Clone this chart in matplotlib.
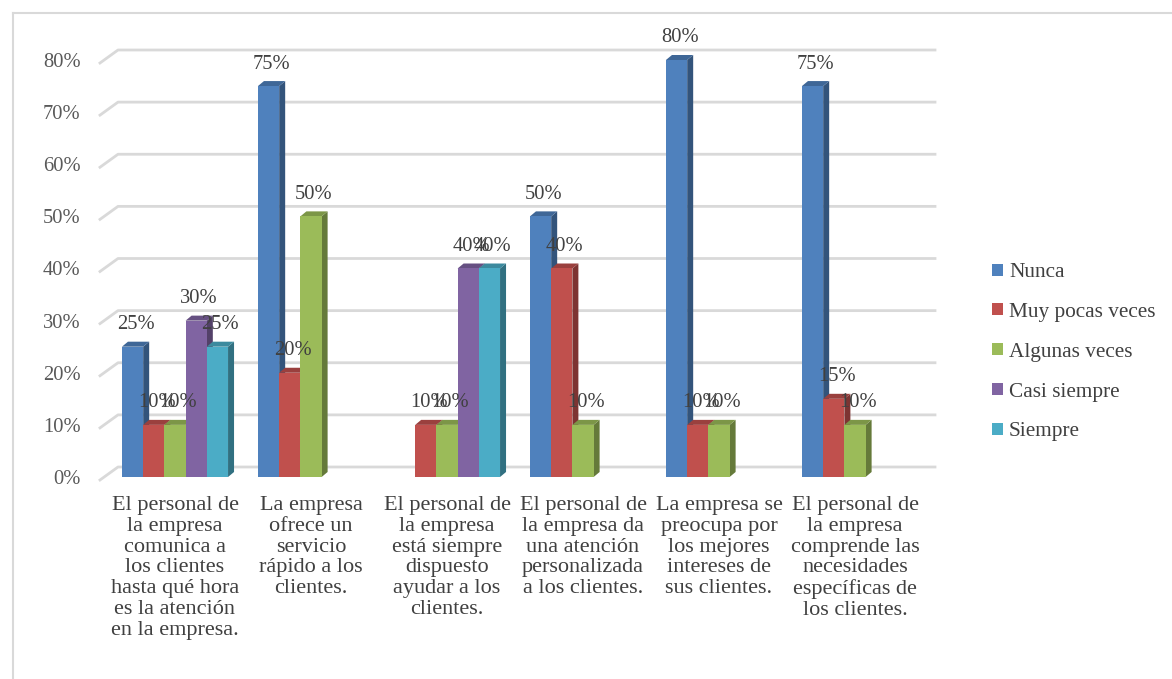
"""Encuesta de atencion al cliente - columnas 3D estilo Excel"""

import matplotlib
matplotlib.use('Agg')
import matplotlib.pyplot as plt
from matplotlib.patches import Polygon, Patch
from matplotlib.lines import Line2D
from matplotlib import colors as mcolors

plt.rcParams['font.family'] = ['Liberation Serif', 'DejaVu Serif']

categories = [
    'El personal de\nla empresa\ncomunica a\nlos clientes\nhasta qué hora\nes la atención\nen la empresa.',
    'La empresa\nofrece un\nservicio\nrápido a los\nclientes.',
    'El personal de\nla empresa\nestá siempre\ndispuesto\nayudar a los\nclientes.',
    'El personal de\nla empresa da\nuna atención\npersonalizada\na los clientes.',
    'La empresa se\npreocupa por\nlos mejores\nintereses de\nsus clientes.',
    'El personal de\nla empresa\ncomprende las\nnecesidades\nespecíficas de\nlos clientes.',
]
series_names = ['Nunca', 'Muy pocas veces', 'Algunas veces', 'Casi siempre', 'Siempre']
nunca = [0.25, 0.75, 0.00, 0.50, 0.80, 0.75]
muy_pocas = [0.10, 0.20, 0.10, 0.40, 0.10, 0.15]
algunas = [0.10, 0.50, 0.10, 0.10, 0.10, 0.10]
casi_siempre = [0.30, 0.00, 0.40, 0.00, 0.00, 0.00]
siempre = [0.25, 0.00, 0.40, 0.00, 0.00, 0.00]
series = [nunca, muy_pocas, algunas, casi_siempre, siempre]
yticks = [0, 0.1, 0.2, 0.3, 0.4, 0.5, 0.6, 0.7, 0.8]

colors = ['#4F81BD', '#C0504D', '#9BBB59', '#8064A2', '#4BACC6']
grid_c = '#D9D9D9'

W, H = 1172, 679
fig = plt.figure(figsize=(W / 100, H / 100), dpi=100)
ax = fig.add_axes([107 / W, 202 / H, 816 / W, 417 / H])
ax.set_xlim(-0.5, 5.5)
ax.set_ylim(0, 0.8)
for s in ax.spines.values():
    s.set_visible(False)
ax.set_xticks([])
ax.set_yticks(yticks)
ax.set_yticklabels([f'{int(round(t * 100))}%' for t in yticks], fontsize=14.8, color='#595959')
ax.tick_params(axis='y', length=0, pad=19)

# pixel -> data unit helpers
px_x = 6.0 / 816
px_y = 0.8 / 417

def darker(c, f):
    r, g, b = mcolors.to_rgb(c)
    return (r * f, g * f, b * f)

# back wall gridlines with side-wall slant
x_front = -0.5 - 7 * px_x
x_back = -0.5 + 11 * px_x
x_end = -0.5 + 828 * px_x
for t in yticks:
    yf = t - 3 * px_y
    yb = t + 10 * px_y
    ax.add_line(Line2D([x_front, x_back, x_end], [yf, yb, yb], color=grid_c,
                       lw=2, clip_on=False, zorder=0))

# bars with fake depth
w = 0.156
ddx = 6 * px_x
ddy = 5 * px_y
for gi in range(len(categories)):
    for si, vals in enumerate(series):
        v = vals[gi]
        if v <= 0:
            continue
        xc = gi + (si - 2) * w
        xl, xr = xc - w / 2, xc + w / 2
        c = colors[si]
        side = Polygon([(xr, 0), (xr + ddx, ddy), (xr + ddx, v + ddy), (xr, v)],
                       closed=True, fc=darker(c, 0.65), ec='none', clip_on=False, zorder=2)
        top = Polygon([(xl, v), (xl + ddx, v + ddy), (xr + ddx, v + ddy), (xr, v)],
                      closed=True, fc=darker(c, 0.8), ec='none', clip_on=False, zorder=2)
        ax.add_patch(side)
        ax.add_patch(top)
        ax.bar(xc, v, width=w, color=c, zorder=2, clip_on=False)
        ax.text(xc + ddx / 2, v + 22 * px_y, f'{int(round(v * 100))}%', ha='center',
                va='center', fontsize=14.8, color='#404040', zorder=5, clip_on=False)

for gi, lab in enumerate(categories):
    ax.text(gi, -19 * px_y, lab, ha='center', va='top', fontsize=16,
            color='#404040', linespacing=1.13, clip_on=False)

handles = [Patch(facecolor=c, edgecolor='none') for c in colors]
fig.legend(handles, series_names, loc='upper left', bbox_to_anchor=(973 / W, 1 - 244 / H),
           frameon=False, fontsize=15.3, handlelength=0.5, handleheight=0.5,
           handletextpad=0.3, labelspacing=0.98, labelcolor='#404040')

# outer chart border
fig.add_artist(Line2D([12.5 / W, 12.5 / W], [0, 1 - 12.5 / H], color=grid_c, lw=1.5))
fig.add_artist(Line2D([12.5 / W, 1], [1 - 12.5 / H, 1 - 12.5 / H], color=grid_c, lw=1.5))

fig.savefig('out.png', dpi=100, facecolor='white')
